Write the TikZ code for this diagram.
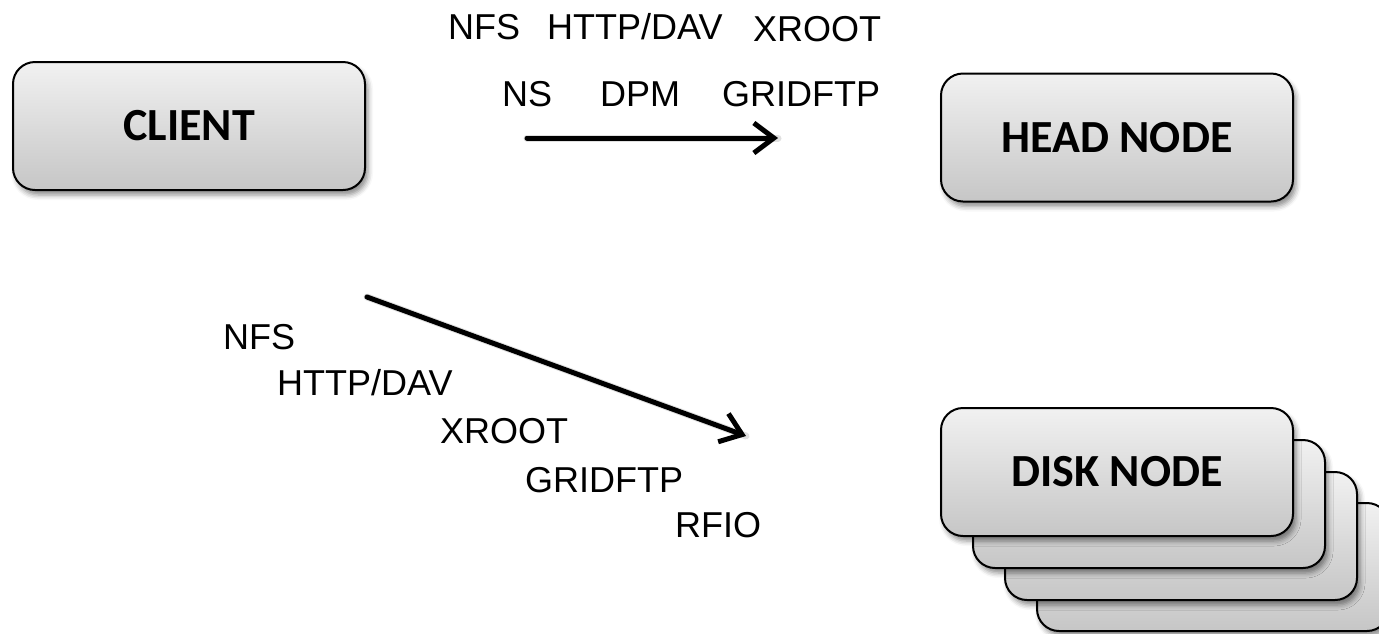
\documentclass[tikz,border=0pt]{standalone}
\usepackage{fontspec}
\setmainfont{Liberation Sans}
\newfontfamily\boxfont{Carlito}
\usetikzlibrary{shadows.blur,arrows.meta}
\definecolor{boxtop}{RGB}{241,241,241}
\definecolor{boxbot}{RGB}{198,198,198}
\tikzset{
  box/.style={draw=black, line width=2pt, rounded corners=22pt,
    minimum width=352pt, minimum height=128pt, inner sep=0pt,
    top color=boxtop, bottom color=boxbot,
    blur shadow={shadow xshift=3pt, shadow yshift=-5pt, shadow blur radius=5pt, shadow opacity=45},
    font=\boxfont\bfseries\fontsize{46}{52}\selectfont},
  proto/.style={anchor=base west, inner sep=0pt, font=\fontsize{36}{42}\selectfont},
  flow/.style={line width=5pt, line cap=round, -{Straight Barb[length=20pt,width=30pt]}},
  flowshadow/.style={line width=7pt, line cap=round, black, opacity=0.12, xshift=1.5pt, yshift=-4pt},
}
\begin{document}
\begin{tikzpicture}[x=1pt,y=-1pt]
\useasboundingbox (0,0) rectangle (1379,633);
% boxes
\node[box] (client) at (189,126) {CLIENT};
\node[box] (head) at (1117,137.5) {HEAD NODE};
\node[box] (disk4) at (1213,567) {};
\node[box] (disk3) at (1181,536) {};
\node[box] (disk2) at (1149,504) {};
\node[box] (disk) at (1117,472) {DISK NODE};
% protocol labels (top)
\node[proto] (t1) at (448,39) {NFS};
\node[proto] (t2) at (547,39) {HTTP/DAV};
\node[proto] (t3) at (753,41) {XROOT};
\node[proto] (t4) at (502,106) {NS};
\node[proto] (t5) at (600,106) {DPM};
\node[proto] (t6) at (722,106) {GRIDFTP};
% protocol labels (lower)
\node[proto] (l1) at (223,349) {NFS};
\node[proto] (l2) at (277,395) {HTTP/DAV};
\node[proto] (l3) at (440,443) {XROOT};
\node[proto] (l4) at (525,492) {GRIDFTP};
\node[proto] (l5) at (675,537) {RFIO};
% arrows
\coordinate (a1s) at (527,138);
\coordinate (a1e) at (778,138);
\coordinate (a2s) at (367,297);
\coordinate (a2e) at (746,436);
\draw[flowshadow] (a1s) -- (a1e);
\draw[flowshadow] (a2s) -- (a2e);
\draw[flow] (a1s) -- (a1e);
\draw[flow] (a2s) -- (a2e);
\end{tikzpicture}
\end{document}
